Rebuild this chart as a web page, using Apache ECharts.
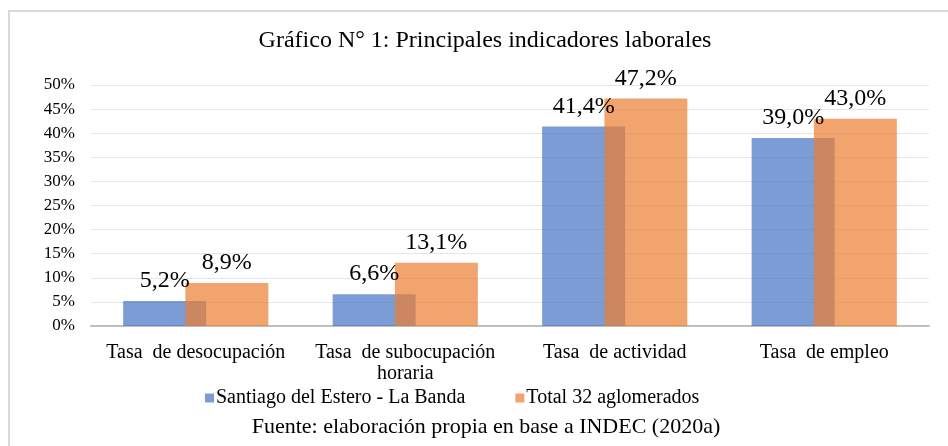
<!DOCTYPE html>
<html><head><meta charset="utf-8">
<script src="https://cdn.jsdelivr.net/npm/echarts@6/dist/echarts.min.js"></script>
<style>html,body{margin:0;padding:0;background:#fff}#c{width:948px;height:446px}</style>
</head><body><div id="c"></div>
<script>
const categories = ['Tasa  de desocupación', 'Tasa  de subocupación\nhoraria', 'Tasa  de actividad', 'Tasa  de empleo'];
const santiago = [5.2, 6.6, 41.4, 39.0];
const total32 = [8.9, 13.1, 47.2, 43.0];
const seriesNames = ['Santiago del Estero - La Banda', 'Total 32 aglomerados'];
const yTicks = [0, 5, 10, 15, 20, 25, 30, 35, 40, 45, 50];

const font = "'Liberation Serif', 'Times New Roman', serif";
const chart = echarts.init(document.getElementById('c'));
const fmt = v => v.toFixed(1).replace('.', ',') + '%';
chart.setOption({
  animation: false,
  textStyle: { fontFamily: font },
  graphic: [
    { type: 'rect', shape: { x: 9, y: 11, width: 960, height: 460 }, style: { fill: 'none', stroke: '#d9d9d9', lineWidth: 2 }, silent: true },
    { type: 'text', x: 485, y: 41, style: { text: 'Gráfico N° 1: Principales indicadores laborales', font: '24px ' + font, fill: '#000', align: 'center', verticalAlign: 'middle' } },
    { type: 'text', x: 486, y: 427, style: { text: 'Fuente: elaboración propia en base a INDEC (2020a)', font: '22px ' + font, fill: '#000', align: 'center', verticalAlign: 'middle' } }
  ],
  legend: {
    data: seriesNames, top: 383, left: 200,
    icon: 'rect', itemWidth: 9, itemHeight: 9, itemGap: 50,
    textStyle: { fontFamily: font, fontSize: 20, color: '#000', padding: [0, 0, 0, -3] }
  },
  grid: { left: 91, right: 19, top: 85, bottom: 120 },
  xAxis: {
    type: 'category', data: categories,
    axisLine: { lineStyle: { color: '#bfbfbf', width: 2 } },
    axisTick: { show: false },
    axisLabel: { interval: 0, fontFamily: font, fontSize: 20, color: '#000', margin: 16, lineHeight: 21 }
  },
  yAxis: {
    type: 'value', min: 0, max: 50, interval: 5,
    axisLine: { show: false }, axisTick: { show: false },
    splitLine: { lineStyle: { color: '#e6e6e6', width: 1 } },
    axisLabel: { fontFamily: font, fontSize: 17, color: '#000', margin: 16, formatter: v => yTicks.includes(v) ? v + '%' : '' }
  },
  series: [
    { name: seriesNames[0], type: 'bar', data: santiago, barWidth: '39.6%', barGap: '-25%',
      itemStyle: { color: 'rgba(68,114,196,0.7)' },
      label: { show: true, position: 'top', distance: 8, fontFamily: font, fontSize: 24, color: '#000', formatter: p => fmt(p.value) } },
    { name: seriesNames[1], type: 'bar', data: total32, barWidth: '39.6%',
      itemStyle: { color: 'rgba(237,125,49,0.7)' },
      label: { show: true, position: 'top', distance: 8, fontFamily: font, fontSize: 24, color: '#000', formatter: p => fmt(p.value) } }
  ]
});
</script></body></html>
